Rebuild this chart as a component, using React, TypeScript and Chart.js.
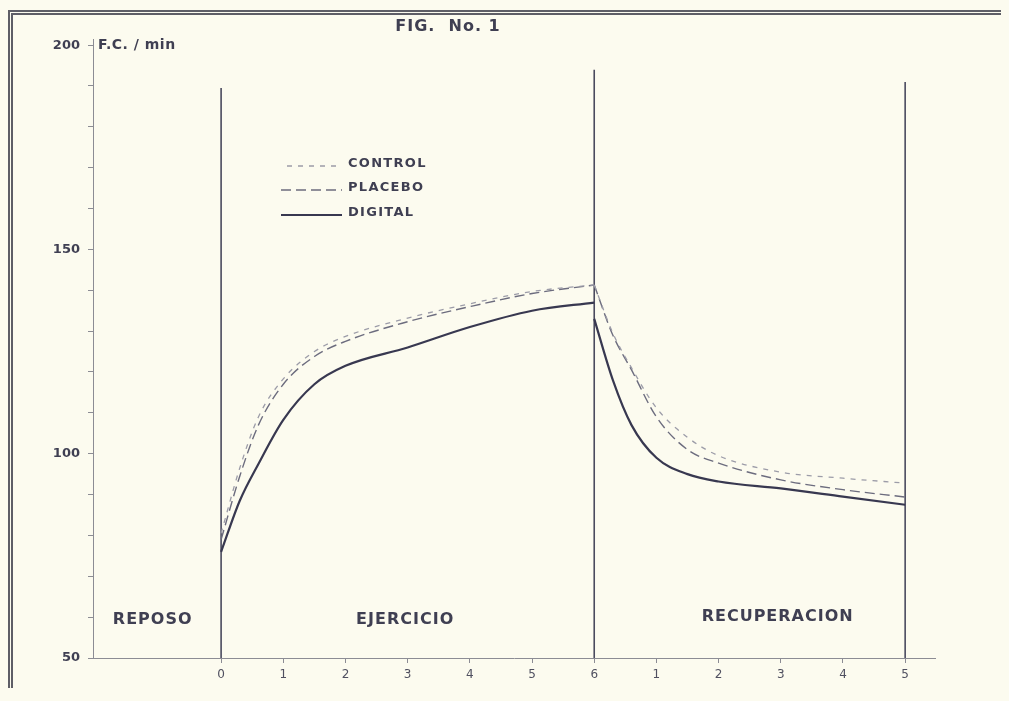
import { useEffect, useRef } from 'react';
import { Chart, registerables } from 'chart.js';

Chart.register(...registerables);

// ---- data (heart rate, beats/min) ----
const exerciseMinutes = [0, 0.3, 0.6, 1, 1.5, 2, 3, 4, 5, 6];
const recoveryMinutes = [0, 0.3, 0.6, 1, 1.5, 2, 3, 4, 5];

const controlExercise = [80.5, 96.5, 109, 118.3, 125, 128.7, 133.2, 136.7, 139.7, 141.3];
const placeboExercise = [79, 94.5, 107, 117, 123.8, 127.5, 132.3, 136, 139.2, 141.3];
const digitalExercise = [76, 88.5, 97.5, 108.3, 117, 121.5, 126, 131, 135, 137];

const controlRecovery = [141.3, 129.5, 121, 111.2, 104, 99.5, 95.5, 94, 92.8];
const placeboRecovery = [141.3, 129, 120.5, 109, 101, 97.7, 93.6, 91.2, 89.4];
const digitalRecovery = [133, 118, 107, 99, 95, 93.2, 91.5, 89.5, 87.5];

const seriesNames = ['CONTROL', 'PLACEBO', 'DIGITAL'];
const phaseNames = ['REPOSO', 'EJERCICIO', 'RECUPERACION'];
const exerciseTickLabels = ['0', '1', '2', '3', '4', '5', '6'];
const recoveryTickLabels = ['1', '2', '3', '4', '5'];
const dividerMinutes = [0, 6, 11];
const dividerTops = [189.5, 194, 191];
const yMin = 50;
const yMax = 201.5;
const EXERCISE_END = 6;

const INK = '#3f3f52';
const FONT = '"DejaVu Sans", sans-serif';

const seriesStyles = [
  { color: '#9c9ca8', width: 1.3, dash: [5, 6] },
  { color: '#6c6c7e', width: 1.4, dash: [10, 5] },
  { color: '#383850', width: 2.2, dash: [] as number[] },
];

const exerciseSets = [controlExercise, placeboExercise, digitalExercise];
const recoverySets = [controlRecovery, placeboRecovery, digitalRecovery];

const textPlugin = {
  id: 'figText',
  afterDraw(chart: any) {
    const ctx = chart.ctx as CanvasRenderingContext2D;
    const xs = chart.scales.x;
    const ys = chart.scales.y;
    ctx.save();
    ctx.fillStyle = INK;
    ctx.textBaseline = 'middle';

    // title
    ctx.font = `bold 16px ${FONT}`;
    (ctx as any).letterSpacing = '1px';
    ctx.textAlign = 'center';
    ctx.fillText('FIG.  No. 1', 440, 19);

    // unit label
    ctx.font = `bold 14px ${FONT}`;
    (ctx as any).letterSpacing = '0.5px';
    ctx.textAlign = 'left';
    ctx.fillText('F.C. / min', 90, ys.getPixelForValue(200));

    // phase labels
    ctx.font = `bold 16px ${FONT}`;
    (ctx as any).letterSpacing = '1px';
    ctx.textAlign = 'center';
    const phasePos = [
      [-1.1, 59.3],
      [2.96, 59.3],
      [8.95, 60],
    ];
    phaseNames.forEach((name, i) => {
      ctx.fillText(name, xs.getPixelForValue(phasePos[i][0]), ys.getPixelForValue(phasePos[i][1]));
    });

    // legend
    const legendY = [156, 180, 205];
    ctx.font = `bold 13px ${FONT}`;
    (ctx as any).letterSpacing = '1.3px';
    ctx.textAlign = 'left';
    seriesNames.forEach((name, i) => {
      const st = seriesStyles[i];
      ctx.save();
      ctx.strokeStyle = st.color;
      ctx.lineWidth = st.width;
      ctx.setLineDash(st.dash);
      ctx.beginPath();
      ctx.moveTo(i === 0 ? 279 : 273, legendY[i] + 2);
      ctx.lineTo(334, legendY[i] + 2);
      ctx.stroke();
      ctx.restore();
      ctx.fillText(name, 340, legendY[i]);
    });
    ctx.restore();
  },
};

export default function App() {
  const canvasRef = useRef<HTMLCanvasElement | null>(null);

  useEffect(() => {
    if (!canvasRef.current) return;
    const datasets: any[] = [];
    seriesNames.forEach((name, i) => {
      const st = seriesStyles[i];
      const common = {
        borderColor: st.color,
        borderWidth: st.width,
        borderDash: st.dash,
        pointRadius: 0,
        fill: false,
        cubicInterpolationMode: 'monotone',
      };
      datasets.push({
        label: name,
        data: exerciseMinutes.map((m, k) => ({ x: m, y: exerciseSets[i][k] })),
        ...common,
      });
      datasets.push({
        label: name + ' rec',
        data: recoveryMinutes.map((m, k) => ({ x: EXERCISE_END + m, y: recoverySets[i][k] })),
        ...common,
      });
    });
    dividerMinutes.forEach((m, i) => {
      datasets.push({
        label: 'div' + i,
        data: [
          { x: m, y: yMin },
          { x: m, y: dividerTops[i] },
        ],
        borderColor: '#4a4a5e',
        borderWidth: 1.6,
        pointRadius: 0,
      });
    });

    const tickValues = [
      ...exerciseTickLabels.map((_, i) => i),
      ...recoveryTickLabels.map((_, i) => EXERCISE_END + 1 + i),
    ];
    const tickText = [...exerciseTickLabels, ...recoveryTickLabels];

    const chart = new Chart(canvasRef.current, {
      type: 'line',
      data: { datasets },
      options: {
        responsive: false,
        animation: false,
        layout: { padding: { left: 0, top: 31, right: 74, bottom: 0 } },
        plugins: {
          legend: { display: false },
          tooltip: { enabled: false },
        },
        scales: {
          x: {
            type: 'linear',
            min: -2.06,
            max: 11.48,
            afterBuildTicks: (scale: any) => {
              scale.ticks = tickValues.map((v) => ({ value: v }));
            },
            afterFit: (scale: any) => {
              scale.height = 30;
            },
            ticks: {
              autoSkip: false,
              maxRotation: 0,
              padding: 5,
              color: '#505060',
              font: { family: FONT, size: 12 },
              callback: (v: any) => {
                const idx = tickValues.indexOf(Number(v));
                return idx >= 0 ? tickText[idx] : '';
              },
            },
            grid: { drawOnChartArea: false, drawTicks: true, tickLength: 5, color: '#8c8c94' },
            border: { display: true, color: '#8c8c94', width: 1 },
          },
          y: {
            type: 'linear',
            min: yMin,
            max: yMax,
            afterFit: (scale: any) => {
              scale.width = 85;
            },
            ticks: {
              stepSize: 10,
              includeBounds: false,
              padding: 8,
              color: INK,
              font: { family: FONT, size: 13, weight: 'bold' },
              callback: (v: any) => (Number(v) % 50 === 0 ? String(v) : ''),
            },
            grid: { drawOnChartArea: false, drawTicks: true, tickLength: 5, color: '#8c8c94' },
            border: { display: true, color: '#8c8c94', width: 1 },
          },
        },
      } as any,
      plugins: [textPlugin],
    });
    return () => chart.destroy();
  }, []);

  return (
    <div style={{ position: 'relative', width: 1001, height: 680 }}>
      <style>{'body{background:#fcfbef;}'}</style>
      <canvas
        ref={canvasRef}
        width={1001}
        height={680}
        style={{ position: 'absolute', left: 0, top: 0, width: 1001, height: 680 }}
      />
      <div
        style={{
          position: 'absolute',
          left: 0,
          top: 2,
          width: 1001,
          height: 678,
          boxSizing: 'border-box',
          borderLeft: '5px double #5e5e66',
          borderTop: '5px double #5e5e66',
          pointerEvents: 'none',
        }}
      />
    </div>
  );
}
